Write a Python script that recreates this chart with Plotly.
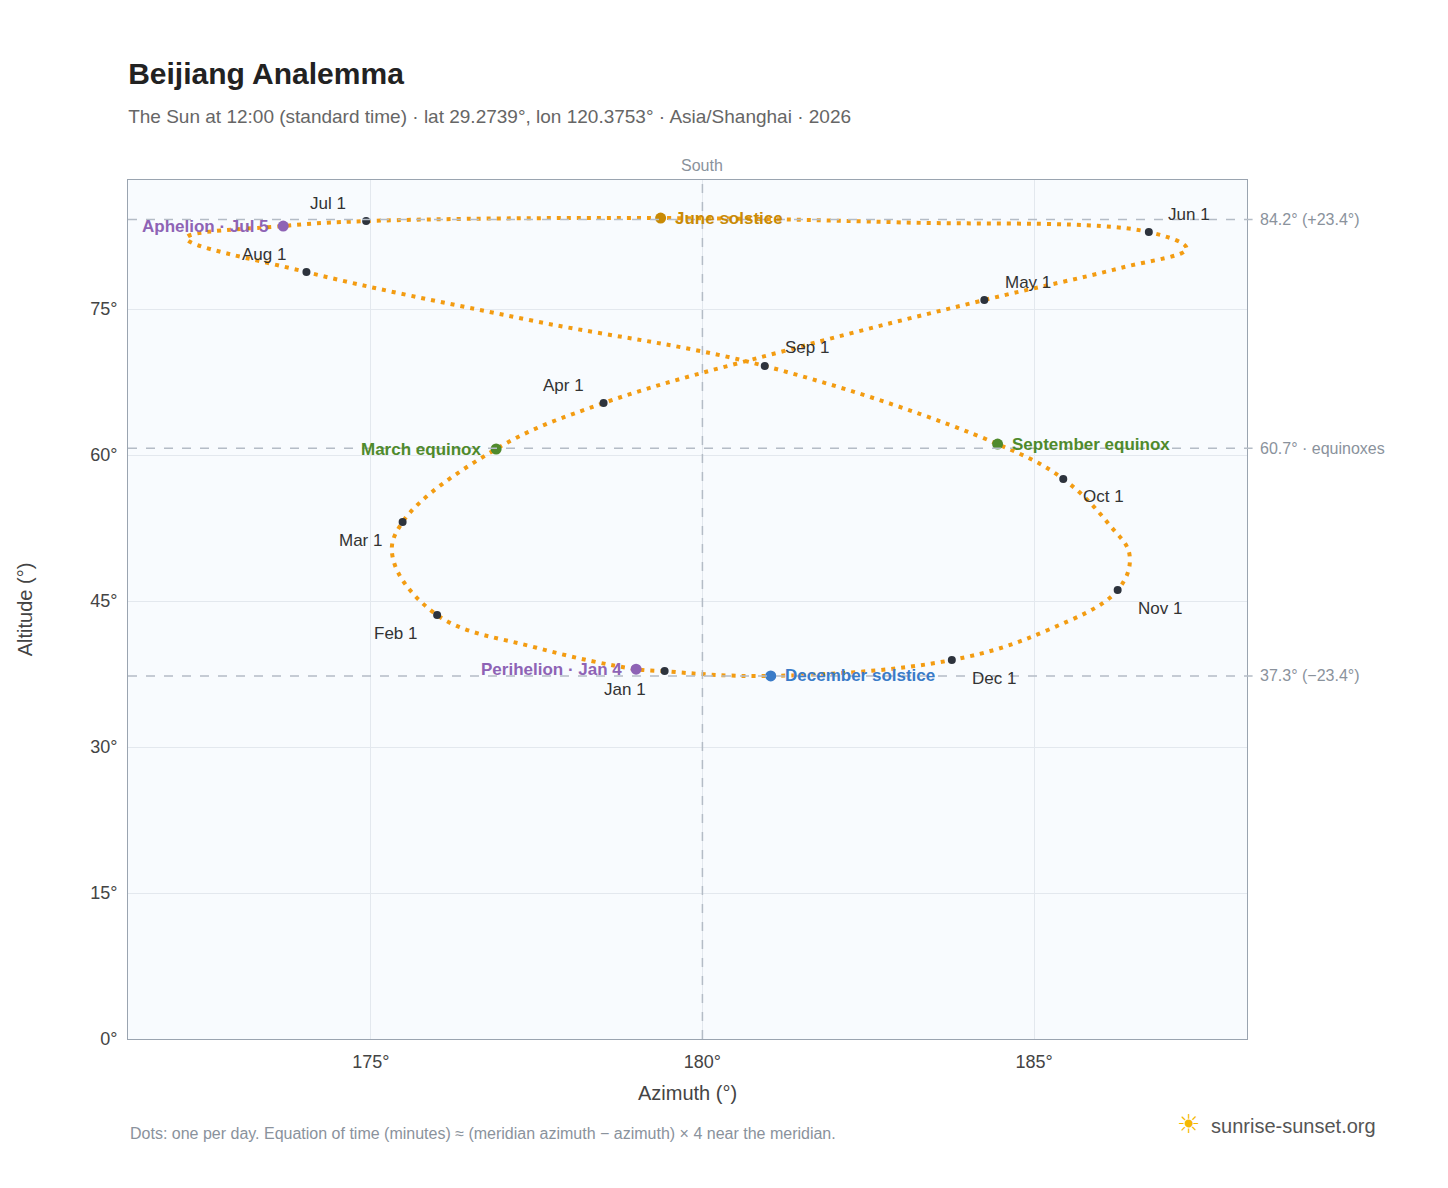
import plotly.graph_objects as go

# analemma track (azimuth, altitude in degrees)
track_az = [179.43, 179.0, 177.5, 176.0, 175.33, 175.48, 176.89, 178.51, 181.4, 184.25,
            186.29, 187.3, 186.73, 183.0, 179.37, 174.93, 173.68, 172.22, 174.03, 177.39,
            180.94, 184.45, 185.44, 186.14, 186.44, 186.26, 185.2, 183.76, 181.03, 179.5]
track_alt = [37.81, 38.0, 40.2, 43.56, 49.5, 53.12, 60.62, 65.34, 71.0, 75.93,
             79.2, 81.2, 82.91, 83.9, 84.35, 84.04, 83.53, 82.3, 78.80, 73.87,
             69.15, 61.13, 57.54, 52.8, 49.7, 46.13, 42.0, 38.94, 37.30, 37.76]

months = ["Jan 1", "Feb 1", "Mar 1", "Apr 1", "May 1", "Jun 1",
          "Jul 1", "Aug 1", "Sep 1", "Oct 1", "Nov 1", "Dec 1"]
month_az = [179.43, 176.00, 175.48, 178.51, 184.25, 186.73, 174.93, 174.03, 180.94, 185.44, 186.26, 183.76]
month_alt = [37.81, 43.56, 53.12, 65.34, 75.93, 82.91, 84.04, 78.80, 69.15, 57.54, 46.13, 38.94]
month_pos = [(-40, 18), (-42, 18), (-42, 18), (-40, -18), (44, -18), (40, -18),
             (-38, -18), (-42, -18), (42, -18), (40, 18), (42, 18), (42, 18)]

events = ["Perihelion · Jan 4", "Aphelion · Jul 5", "March equinox",
          "June solstice", "September equinox", "December solstice"]
event_az = [179.0, 173.68, 176.89, 179.37, 184.45, 181.03]
event_alt = [38.0, 83.53, 60.62, 84.35, 61.13, 37.30]
event_col = ["#8e63b5", "#8e63b5", "#4f8a2c", "#c98a05", "#4f8a2c", "#3a7bc8"]
event_side = ["left", "left", "left", "right", "right", "right"]

ref_alt = [84.2, 60.7, 37.3]
ref_text = ["84.2° (+23.4°)", "60.7° · equinoxes", "37.3° (−23.4°)"]

fig = go.Figure()
fig.add_trace(go.Scatter(x=track_az, y=track_alt, mode="lines",
                         line=dict(color="#f39c12", width=4, dash="4px,6px", shape="spline", smoothing=1.1),
                         hoverinfo="skip"))
fig.add_trace(go.Scatter(x=month_az, y=month_alt, mode="markers",
                         marker=dict(color="#2d333d", size=8)))
fig.add_trace(go.Scatter(x=event_az, y=event_alt, mode="markers",
                         marker=dict(color=event_col, size=11)))

for t, x, y, (dx, dy) in zip(months, month_az, month_alt, month_pos):
    fig.add_annotation(x=x, y=y, text=t, showarrow=True, arrowcolor="rgba(0,0,0,0)",
                       ax=dx, ay=dy, font=dict(size=17, color="#333"))
for t, x, y, c, s in zip(events, event_az, event_alt, event_col, event_side):
    fig.add_annotation(x=x, y=y, text="<b>%s</b>" % t, showarrow=False,
                       xanchor="right" if s == "left" else "left",
                       xshift=-12 if s == "left" else 12,
                       font=dict(size=17, color=c))

for y, t in zip(ref_alt, ref_text):
    fig.add_shape(type="line", xref="paper", x0=0, x1=1.005, y0=y, y1=y,
                  line=dict(color="#b4bcc6", width=1.5, dash="dash"))
    fig.add_annotation(xref="paper", x=1.01, y=y, text=t, showarrow=False, xanchor="left",
                       font=dict(size=16, color="#8a929c"))
fig.add_shape(type="line", yref="paper", x0=180, x1=180, y0=0, y1=1,
              line=dict(color="#b4bcc6", width=1.5, dash="dash"))
fig.add_annotation(x=180, yref="paper", y=1.005, text="South", showarrow=False, yanchor="bottom",
                   font=dict(size=16, color="#8a929c"))

fig.add_annotation(xref="paper", yref="paper", x=0, y=-0.11, xanchor="left", yanchor="middle", showarrow=False,
                   text="Dots: one per day. Equation of time (minutes) ≈ (meridian azimuth − azimuth) × 4 near the meridian.",
                   font=dict(size=16, color="#8a929c"))
fig.add_annotation(xref="paper", yref="paper", x=1.117, y=-0.099, xanchor="right", yanchor="middle", showarrow=False,
                   text="<span style='color:#f5b800;font-size:26px'>☀</span>  sunrise-sunset.org",
                   font=dict(size=20, color="#555"))

fig.update_layout(
    width=1448, height=1188, showlegend=False,
    font=dict(family="Liberation Sans, Arial, sans-serif", color="#444"),
    title=dict(text="<b>Beijiang Analemma</b><br><span style='font-size:19px;color:#666'>The Sun at 12:00 (standard time) · lat 29.2739°, lon 120.3753° · Asia/Shanghai · 2026</span>",
               x=0.083, y=0.936, xanchor="left", font=dict(size=30, color="#222")),
    paper_bgcolor="white", plot_bgcolor="#f8fbfe",
    margin=dict(l=120, r=209, t=172, b=157),
    xaxis=dict(range=[171.34, 188.21], tickvals=[175, 180, 185], ticktext=["175°", "180°", "185°"],
               title=dict(text="Azimuth (°)", font=dict(size=20)), gridcolor="#e3e8ee",
               showline=True, linecolor="#9aa4b0", mirror=True, zeroline=False, tickfont=dict(size=18),
               ticks="outside", ticklen=6, tickcolor="rgba(0,0,0,0)"),
    yaxis=dict(range=[0, 88.26], tickvals=[0, 15, 30, 45, 60, 75],
               ticktext=["0°", "15°", "30°", "45°", "60°", "75°"],
               title=dict(text="Altitude (°)", font=dict(size=20), standoff=52), gridcolor="#e3e8ee",
               showline=True, linecolor="#9aa4b0", mirror=True, zeroline=False, tickfont=dict(size=18),
               ticks="outside", ticklen=6, tickcolor="rgba(0,0,0,0)"),
)
fig.write_html("out.html")
